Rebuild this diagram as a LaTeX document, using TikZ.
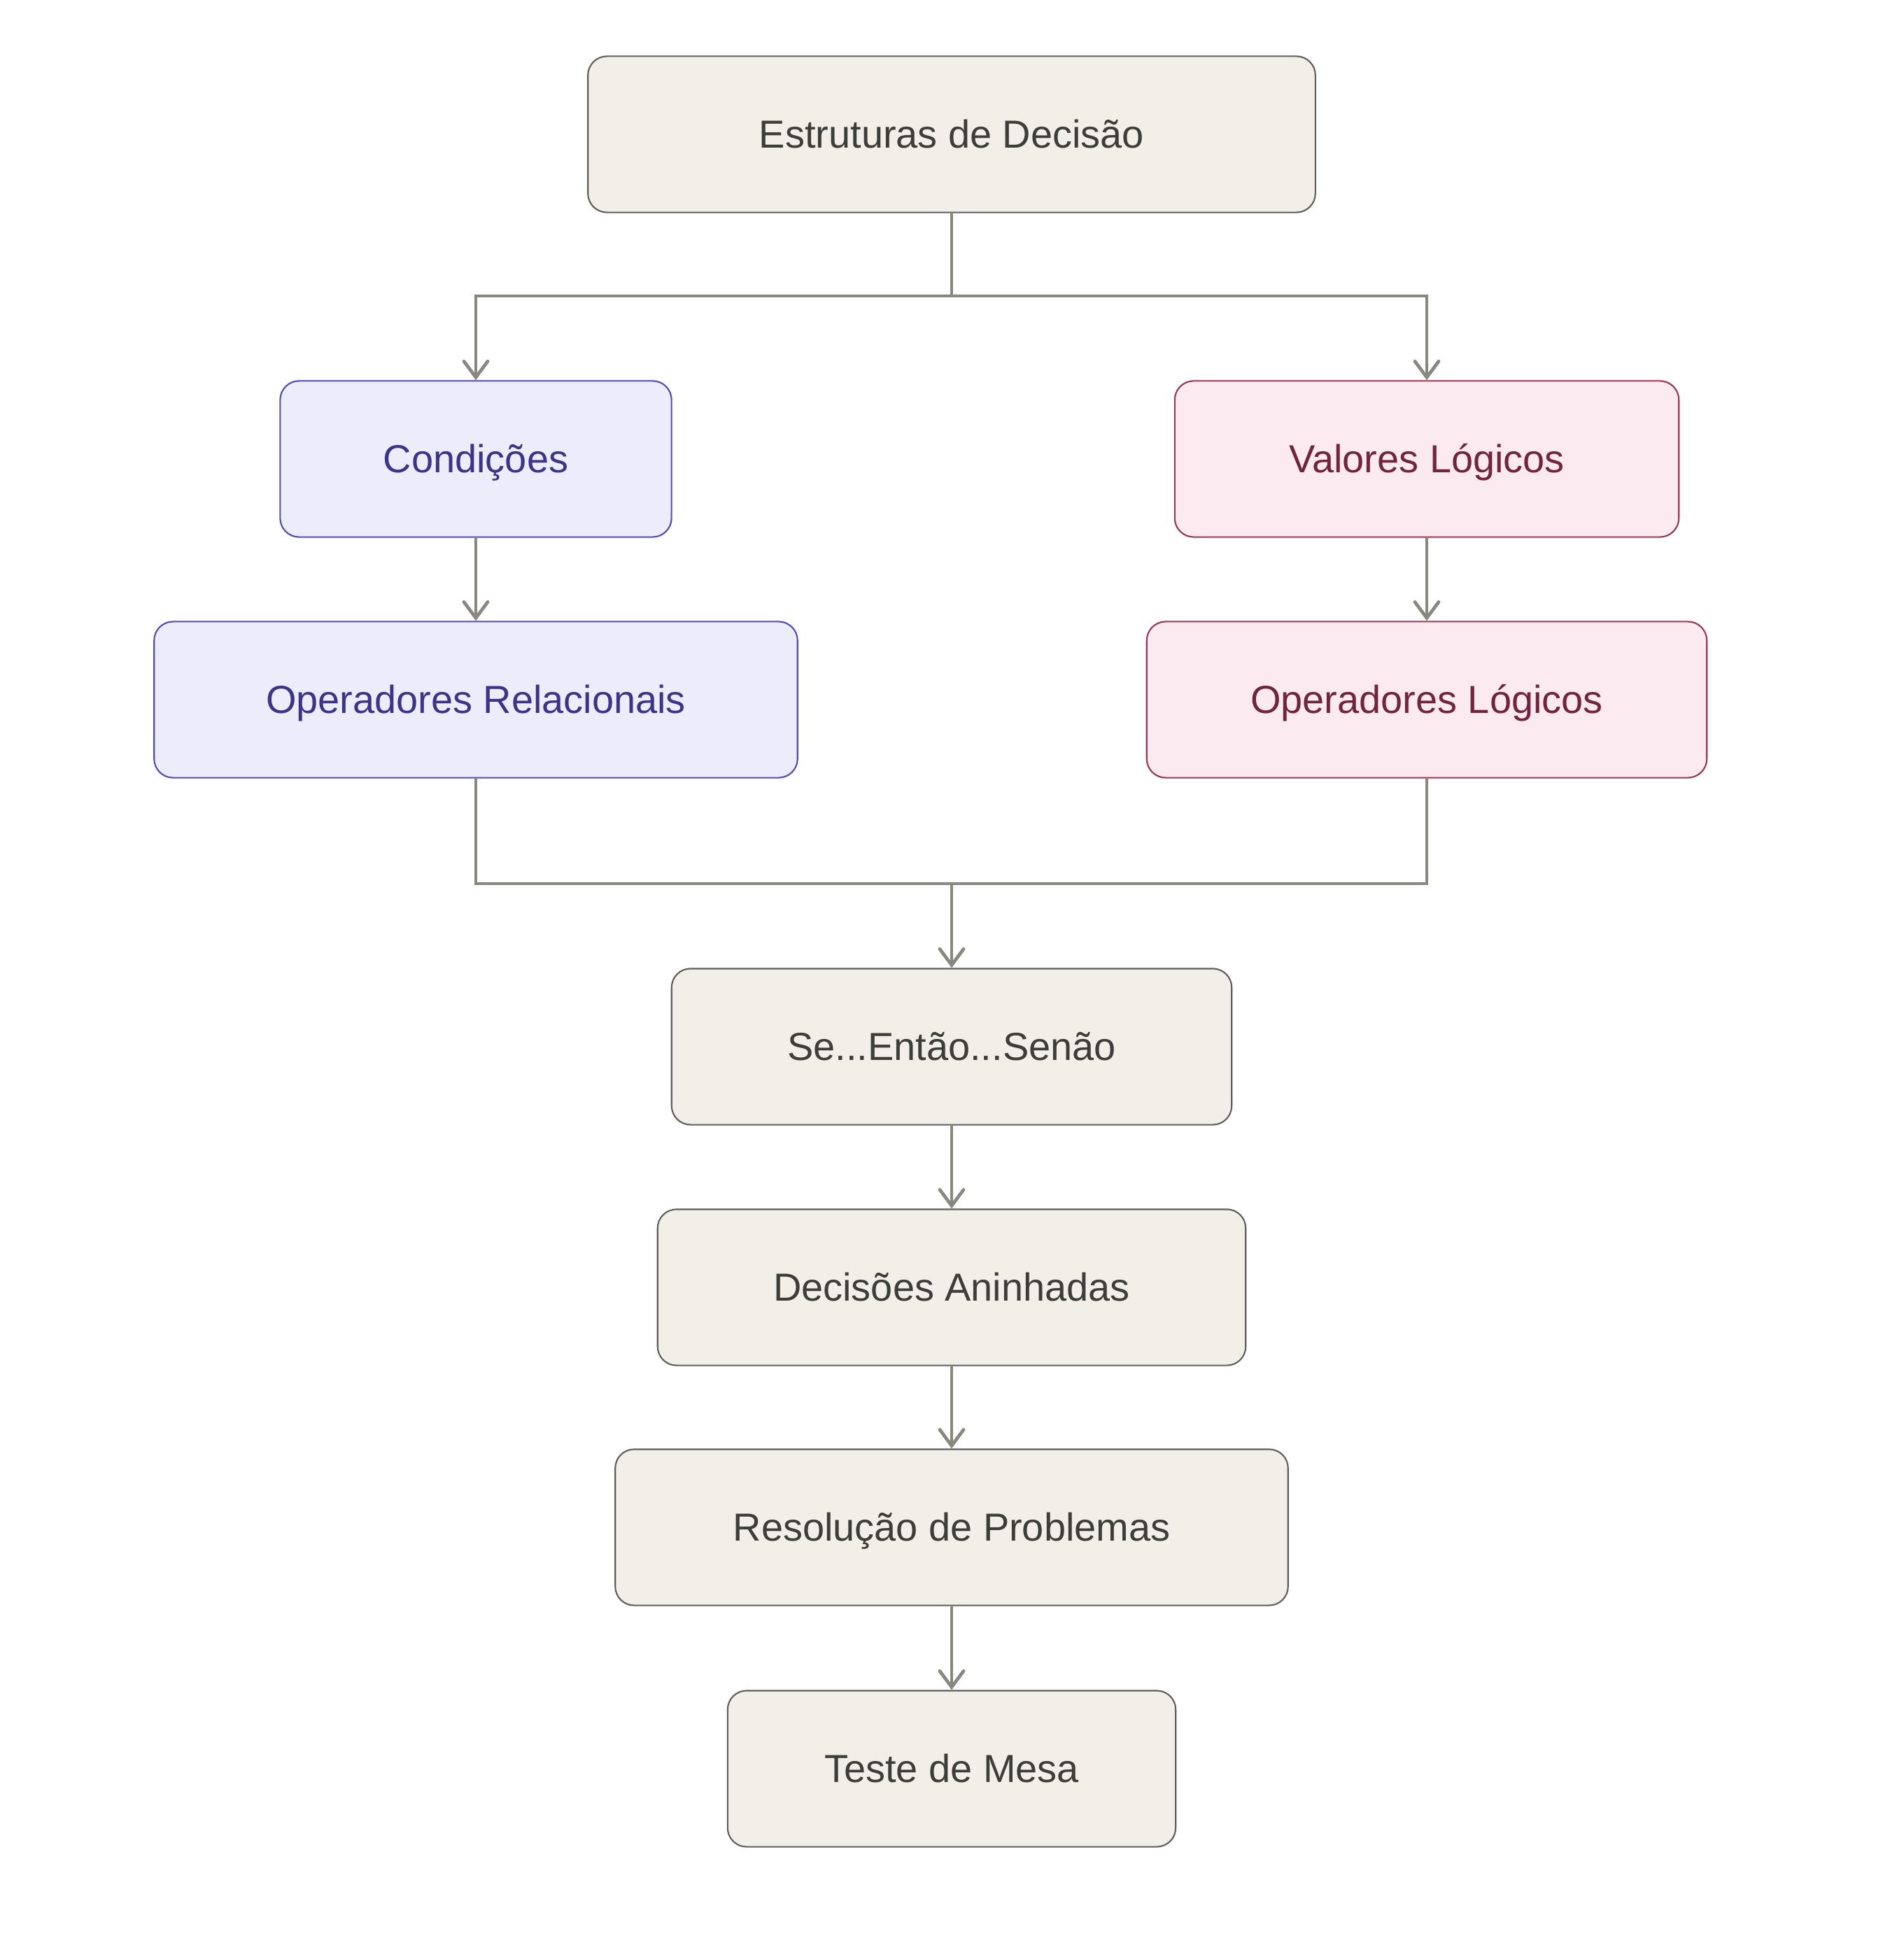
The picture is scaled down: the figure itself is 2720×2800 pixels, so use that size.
\documentclass[tikz,border=0pt]{standalone}
\usepackage{fontspec}
\setmainfont{Liberation Sans}
\usetikzlibrary{arrows.meta}

\definecolor{boxfill}{HTML}{F1EFE8}
\definecolor{boxline}{HTML}{5F5E5A}
\definecolor{boxtext}{HTML}{3D3D3A}
\definecolor{bluefill}{HTML}{ECECFB}
\definecolor{blueline}{HTML}{534AB7}
\definecolor{bluetext}{HTML}{3C3489}
\definecolor{pinkfill}{HTML}{FBEAF0}
\definecolor{pinkline}{HTML}{993556}
\definecolor{pinktext}{HTML}{72243E}
\definecolor{arrowgray}{HTML}{888780}

\tikzset{
  box/.style={draw=boxline, fill=boxfill, text=boxtext, line width=0.6pt,
    rounded corners=0.27cm, minimum height=2.23cm,
    text height=14.4pt, text depth=3.4pt,
    font=\fontsize{15.9}{18}\selectfont},
  bluebox/.style={box, draw=blueline, fill=bluefill, text=bluetext},
  pinkbox/.style={box, draw=pinkline, fill=pinkfill, text=pinktext},
  link/.style={draw=arrowgray, line width=1.35pt},
  arr/.style={link, -{Straight Barb[length=2.3mm,width=3.4mm,line cap=round]}}
}

\begin{document}
\begin{tikzpicture}[x=0.01cm, y=-0.01cm]

\useasboundingbox (0,0) rectangle (2720,2800);

% top of the chart
\node[box, minimum width=10.39cm] (estr) at (1360,192) {Estruturas de Decisão};

% two branches
\node[bluebox, minimum width=5.59cm] (cond) at (680,656) {Condições};
\node[bluebox, minimum width=9.19cm] (oprel) at (680,1000) {Operadores Relacionais};
\node[pinkbox, minimum width=7.20cm] (valor) at (2039,656) {Valores Lógicos};
\node[pinkbox, minimum width=8.00cm] (oplog) at (2039,1000) {Operadores Lógicos};

% main column
\node[box, minimum width=8.00cm] (se) at (1360,1496) {Se...Então...Senão};
\node[box, minimum width=8.40cm] (aninh) at (1360,1840) {Decisões Aninhadas};
\node[box, minimum width=9.61cm] (resol) at (1360,2183) {Resolução de Problemas};
\node[box, minimum width=6.40cm] (teste) at (1360,2528) {Teste de Mesa};

\coordinate (fork) at (1360,423);
\coordinate (join) at (1360,1263);

\draw[link] (estr.south) -- (fork);
\draw[arr] (fork) -| (cond.north);
\draw[arr] (fork) -| (valor.north);
\draw[arr] (cond) -- (oprel);
\draw[arr] (valor) -- (oplog);

\draw[link] (oprel.south) |- (join);
\draw[link] (oplog.south) |- (join);
\draw[arr] (join) -- (se.north);

\draw[arr] (se) -- (aninh);
\draw[arr] (aninh) -- (resol);
\draw[arr] (resol) -- (teste);

\end{tikzpicture}
\end{document}
